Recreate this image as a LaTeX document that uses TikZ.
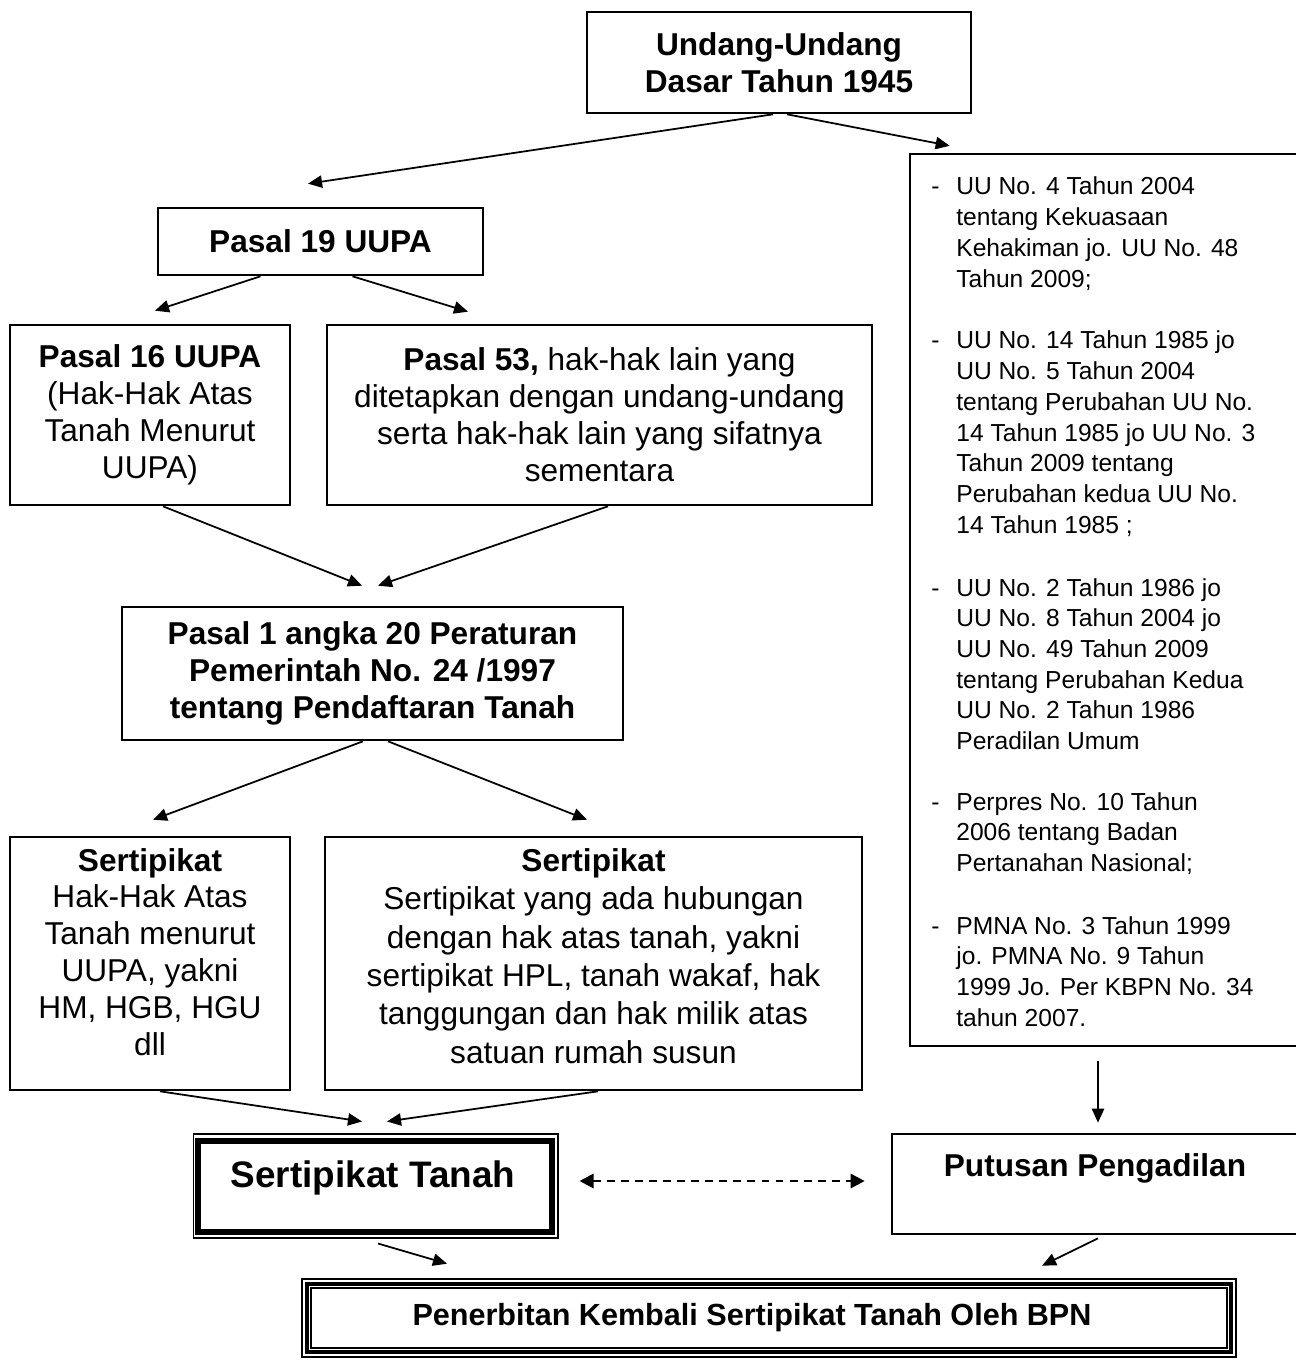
\documentclass[tikz,border=0pt]{standalone}
\usepackage{fontspec}
\setmainfont{Liberation Sans}
\usetikzlibrary{arrows.meta,calc}
\newcommand{\itemlines}[1]{\vtop{\baselineskip=17.5pt #1}}
\tikzset{
  box/.style={draw, line width=1.5pt, inner sep=0pt, align=center, font=\fontsize{18}{21}\selectfont},
  txt/.style={inner sep=0pt, align=center, font=\fontsize{18}{21}\selectfont},
  itm/.style={inner sep=0pt, anchor=base west, font=\fontsize{14}{17.5}\selectfont},
  arr/.style={line width=1pt, -{Triangle[length=8pt,width=7pt]}},
  darr/.style={line width=1.6pt, dash pattern=on 4.5pt off 3.5pt, {Triangle[length=8pt,width=8pt]}-{Triangle[length=8pt,width=8pt]}}
}
\begin{document}
\begin{tikzpicture}[x=0.02cm,y=-0.02cm]
\useasboundingbox (0,0) rectangle (1295,1361);

% boxes
\node[box, minimum width=7.68cm, minimum height=2.02cm] (uud) at (779,62.5)
  {\bfseries Undang-Undang\\\bfseries Dasar Tahun 1945};
\node[box, minimum width=6.5cm, minimum height=1.34cm] (p19) at (320.5,241.5)
  {\bfseries Pasal 19 UUPA};
\node[box, minimum width=5.6cm, minimum height=3.6cm] (p16) at (150,415)
  {\bfseries Pasal 16 UUPA\\(Hak-Hak Atas\\Tanah Menurut\\UUPA)};
\node[box, minimum width=10.9cm, minimum height=3.6cm] (p53) at (599.5,415)
  {\textbf{Pasal 53,} hak-hak lain yang\\ditetapkan dengan undang-undang\\serta hak-hak lain yang sifatnya\\sementara};
\node[box, minimum width=10.02cm, minimum height=2.66cm] (pp) at (372.5,673.5)
  {\bfseries Pasal 1 angka 20 Peraturan\\\bfseries Pemerintah No. 24 /1997\\\bfseries tentang Pendaftaran Tanah};
\node[box, minimum width=5.6cm, minimum height=5.06cm] (s1) at (150,963.5) {};
\node[txt] (s1t) at (150,952)
  {\textbf{Sertipikat}\\Hak-Hak Atas\\Tanah menurut\\UUPA, yakni\\HM, HGB, HGU\\dll};
\node[box, minimum width=10.74cm, minimum height=5.06cm] (s2) at (593.5,963.5) {};
\node[txt, font=\fontsize{18}{21.8}\selectfont] (s2t) at (593.5,956)
  {\textbf{Sertipikat}\\Sertipikat yang ada hubungan\\dengan hak atas tanah, yakni\\sertipikat HPL, tanah wakaf, hak\\tanggungan dan hak milik atas\\satuan rumah susun};

% Sertipikat Tanah (double border)
\node[draw, line width=0.6pt, inner sep=0pt, minimum width=7.3cm, minimum height=2.08cm] (st) at (375.5,1186) {};
\node[draw, line width=3.7pt, inner sep=0pt, minimum width=7.08cm, minimum height=1.82cm] (stin) at (375,1186.5) {};
\node[txt, font=\fontsize{21}{25}\selectfont\bfseries] (stt) at (373,1178) {Sertipikat Tanah};

% right list box
\node[box, minimum width=7.84cm, minimum height=17.84cm] (rbox) at (1106,600) {};
\foreach \n/\y in {1/195,2/349,3/596,4/810,5/934}{
  \node[itm] (d\n) at (931,\y) {-};
}
\node[itm] (r1) at (956,195) {\itemlines{\hbox{UU No. 4 Tahun 2004}\hbox{tentang Kekuasaan}\hbox{Kehakiman jo. UU No. 48}\hbox{Tahun 2009;}}};
\node[itm] (r2) at (956,349) {\itemlines{\hbox{UU No. 14 Tahun 1985 jo}\hbox{UU No. 5 Tahun 2004}\hbox{tentang Perubahan UU No.}\hbox{14 Tahun 1985 jo UU No. 3}\hbox{Tahun 2009 tentang}\hbox{Perubahan kedua UU No.}\hbox{14 Tahun 1985 ;}}};
\node[itm] (r3) at (956,596) {\itemlines{\hbox{UU No. 2 Tahun 1986 jo}\hbox{UU No. 8 Tahun 2004 jo}\hbox{UU No. 49 Tahun 2009}\hbox{tentang Perubahan Kedua}\hbox{UU No. 2 Tahun 1986}\hbox{Peradilan Umum}}};
\node[itm] (r4) at (956,810) {\itemlines{\hbox{Perpres No. 10 Tahun}\hbox{2006 tentang Badan}\hbox{Pertanahan Nasional;}}};
\node[itm] (r5) at (956,934) {\itemlines{\hbox{PMNA No. 3 Tahun 1999}\hbox{jo. PMNA No. 9 Tahun}\hbox{1999 Jo. Per KBPN No. 34}\hbox{tahun 2007.}}};

% Putusan Pengadilan
\node[box, minimum width=8.2cm, minimum height=2.0cm] (put) at (1097,1184) {};
\node[txt, font=\fontsize{18}{21}\selectfont\bfseries] (putt) at (1095,1168) {Putusan Pengadilan};

% bottom triple border box
\node[draw, line width=1.5pt, inner sep=0pt, minimum width=18.68cm, minimum height=1.56cm] (bpn) at (769,1318) {};
\node[draw, line width=2.1pt, inner sep=0pt, minimum width=18.48cm, minimum height=1.36cm] (bpn2) at (769,1318) {};
\node[draw, line width=0.8pt, inner sep=0pt, minimum width=18.32cm, minimum height=1.2cm] (bpn3) at (769,1318) {};
\node[txt, font=\fontsize{17.4}{20}\selectfont\bfseries] (bpnt) at (752,1318) {Penerbitan Kembali Sertipikat Tanah Oleh BPN};

% connectors
\draw[arr] ($(uud.south)+(-6,0)$) -- ($(p19.north)+(-12.5,-23)$);
\draw[arr] ($(uud.south)+(8,0)$) -- ($(rbox.north west)+(41,-7)$);
\draw[arr] ($(p19.south)+(-60,0)$) -- ($(p16.north)+(5,-13)$);
\draw[arr] ($(p19.south)+(32,0)$) -- ($(p53.north)+(-131.5,-12)$);
\draw[arr] ($(p16.south)+(13,0)$) -- ($(pp.north)+(-10.5,-20)$);
\draw[arr] ($(p53.south)+(8.5,0)$) -- ($(pp.north)+(5.5,-20)$);
\draw[arr] ($(pp.south)+(-9.5,0)$) -- ($(s1.north)+(3,-16)$);
\draw[arr] ($(pp.south)+(15.5,0)$) -- ($(s2.north)+(-6.5,-16)$);
\draw[arr] ($(s1.south)+(10,0)$) -- ($(st.north)+(-13.5,-12)$);
\draw[arr] ($(s2.south)+(4.5,0)$) -- ($(st.north)+(11.5,-12)$);
\draw[arr] ($(rbox.south)+(-8,14)$) -- ($(put.north)+(1,-10)$);
\draw[darr] ($(st.east)+(21,-5)$) -- ($(put.west)+(-26,-3)$);
\draw[arr] ($(st.south)+(2.5,5)$) -- ($(bpn.north)+(-322,-14)$);
\draw[arr] ($(put.south)+(1,3)$) -- ($(bpn.north)+(273,-12)$);
\end{tikzpicture}
\end{document}
